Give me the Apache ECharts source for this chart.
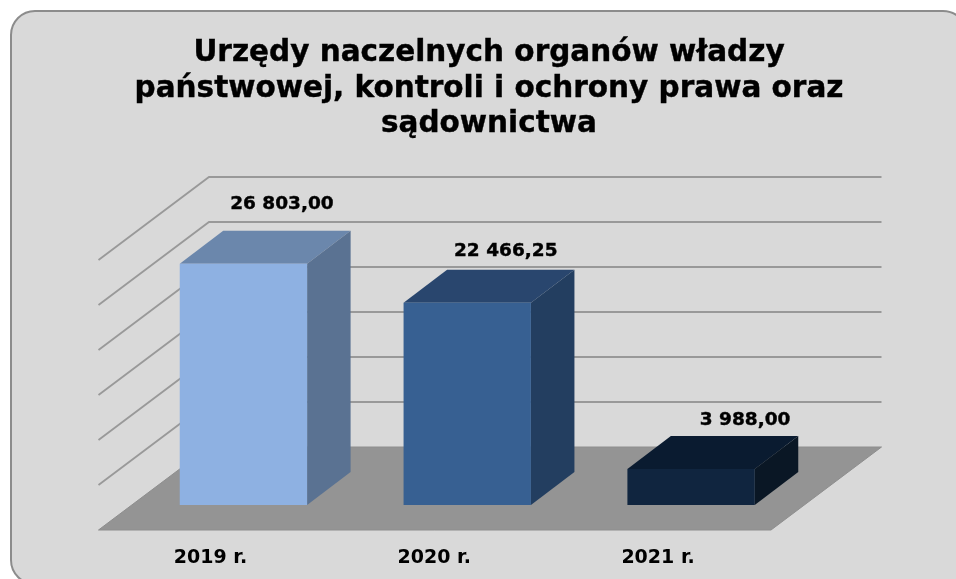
<!DOCTYPE html>
<html>
<head>
<meta charset="utf-8">
<style>html,body{margin:0;padding:0;background:#fff}#c{width:956px;height:579px}</style>
<script src="https://cdn.jsdelivr.net/npm/echarts@6/dist/echarts.min.js"></script>
</head>
<body>
<div id="c"></div>
<script>
const titleText = 'Urzędy naczelnych organów władzy\npaństwowej, kontroli i ochrony prawa oraz\nsądownictwa';
const categories = ['2019 r.', '2020 r.', '2021 r.'];
const values = [26803.00, 22466.25, 3988.00];
const yTicks = [5000, 10000, 15000, 20000, 25000, 30000];

const FONT = '"DejaVu Sans", Verdana, sans-serif';
const palette = [
  { front: '#8eb1e2', top: '#6b87ac', side: '#5a7292' },
  { front: '#376092', top: '#29466e', side: '#233e60' },
  { front: '#10253f', top: '#0a1b30', side: '#0a1725' }
];
const labelNudge = [[38.5, -27], [38.5, -19], [54, -16]];
const WALL = { dx: 110.5, dy: 83, extraRight: 1 };
const BAR = { dx: 43.5, dy: 33, shiftX: 33, shiftY: 25, width: 0.569 };
const fmt = v => {
  const [i, d] = v.toFixed(2).split('.');
  return i.replace(/\B(?=(\d{3})+$)/g, ' ') + ',' + d;
};

const chart = echarts.init(document.getElementById('c'), null, { renderer: 'canvas' });
chart.setOption({
  animation: false,
  backgroundColor: '#ffffff',
  graphic: [{
    type: 'rect', z: -10, silent: true,
    shape: { x: 11, y: 11, width: 956, height: 573, r: 24 },
    style: { fill: '#d9d9d9', stroke: '#8c8c8c', lineWidth: 2 }
  }],
  title: {
    text: titleText, left: 484, top: 31, textAlign: 'center',
    textStyle: { fontFamily: FONT, fontWeight: 'bold', fontSize: 29.5, lineHeight: 35.5, color: '#000', textBorderColor: '#000', textBorderWidth: 0.4 }
  },
  grid: { left: 98.5, right: 186, top: 260, bottom: 49 },
  xAxis: {
    type: 'category', data: categories,
    axisLine: { show: false }, axisTick: { show: false },
    axisLabel: { margin: 19, fontFamily: FONT, fontWeight: 'bold', fontSize: 19, color: '#000' }
  },
  yAxis: {
    type: 'value', min: 0, max: 30000, interval: 5000,
    axisLine: { show: false }, axisTick: { show: false },
    axisLabel: { show: false }, splitLine: { show: false }
  },
  series: [
    {
      type: 'custom', name: 'grid', coordinateSystem: 'cartesian2d', silent: true, z: 1,
      data: yTicks.map(t => [0, t]),
      encode: { x: 0, y: 1 },
      renderItem(params, api) {
        const cs = params.coordSys, y = api.coord([0, api.value(1)])[1];
        return {
          type: 'polyline',
          shape: { points: [[cs.x, y], [cs.x + WALL.dx, y - WALL.dy], [cs.x + cs.width + WALL.extraRight + WALL.dx, y - WALL.dy]] },
          style: { fill: 'none', stroke: '#999999', lineWidth: 1.8 }
        };
      }
    },
    {
      type: 'custom', name: 'floor', coordinateSystem: 'cartesian2d', silent: true, z: 2,
      data: [[0, 0]],
      encode: { x: 0, y: 1 },
      renderItem(params, api) {
        const cs = params.coordSys, y = api.coord([0, 0])[1], r = cs.x + cs.width + WALL.extraRight;
        return {
          type: 'polygon',
          shape: { points: [[cs.x, y], [r, y], [r + WALL.dx, y - WALL.dy], [cs.x + WALL.dx, y - WALL.dy]] },
          style: { fill: '#949494', stroke: '#8e8e8e', lineWidth: 1 }
        };
      }
    },
    {
      type: 'custom', name: 'values', coordinateSystem: 'cartesian2d', silent: true, z: 3,
      data: values.map((v, i) => [i, v]),
      encode: { x: 0, y: 1 },
      renderItem(params, api) {
        const i = api.value(0), v = api.value(1), c = palette[i];
        const top = api.coord([i, v]), base = api.coord([i, 0]);
        const w = api.size([1, 0])[0] * BAR.width;
        const xl = top[0] - w / 2 + BAR.shiftX, xr = xl + w;
        const yt = top[1] - BAR.shiftY, yb = base[1] - BAR.shiftY;
        return {
          type: 'group',
          children: [
            { type: 'polygon', shape: { points: [[xl, yt], [xr, yt], [xr + BAR.dx, yt - BAR.dy], [xl + BAR.dx, yt - BAR.dy]] }, style: { fill: c.top } },
            { type: 'polygon', shape: { points: [[xr, yt], [xr + BAR.dx, yt - BAR.dy], [xr + BAR.dx, yb - BAR.dy], [xr, yb]] }, style: { fill: c.side } },
            { type: 'rect', shape: { x: xl, y: yt, width: w, height: yb - yt }, style: { fill: c.front } },
            {
              type: 'text',
              style: {
                x: xl + w / 2 + labelNudge[i][0], y: yt - BAR.dy + labelNudge[i][1],
                text: fmt(v), align: 'center', verticalAlign: 'middle',
                font: 'bold 18.5px ' + FONT, fill: '#000', stroke: '#000', lineWidth: 0.4
              }
            }
          ]
        };
      }
    }
  ]
});
</script>
</body>
</html>
